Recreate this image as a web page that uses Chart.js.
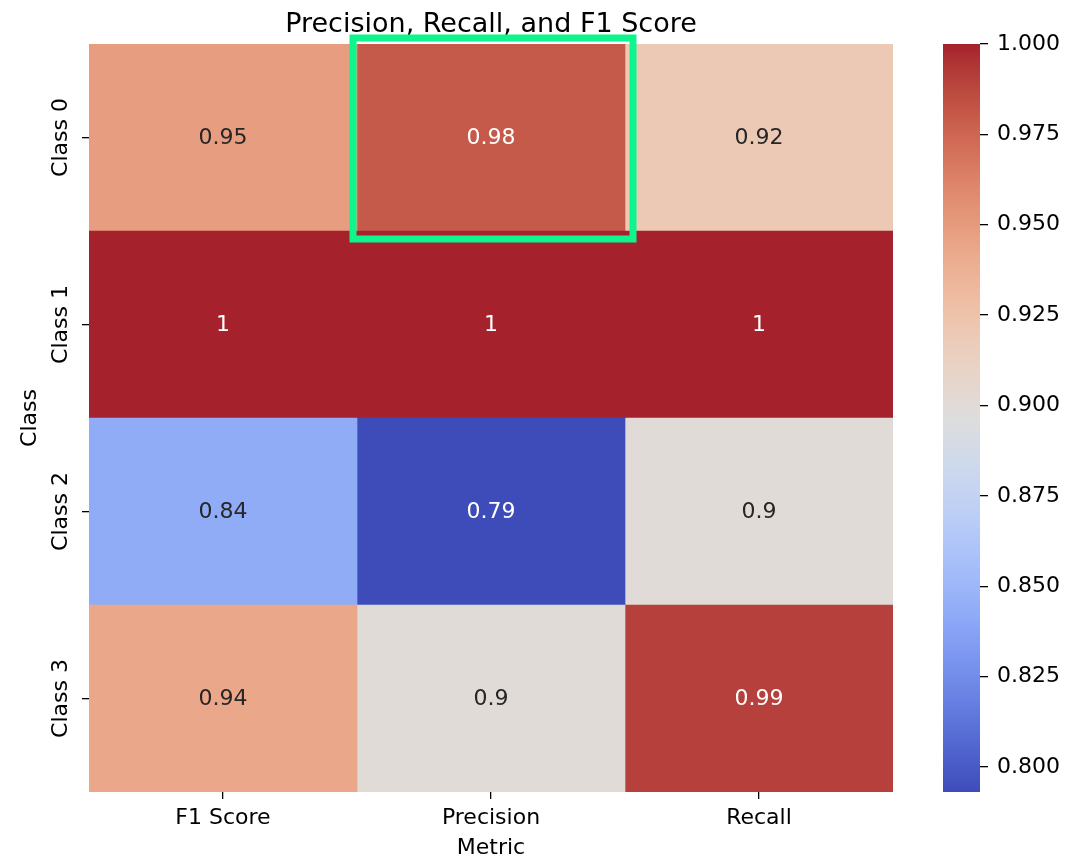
<!DOCTYPE html>
<html>
<head>
<meta charset="utf-8">
<script src="https://cdn.jsdelivr.net/npm/chart.js@4.4.1/dist/chart.umd.min.js"></script>
<style>
  html, body { margin: 0; padding: 0; background: #fff; }
  #wrap { position: relative; width: 1086px; height: 859px; }
  #heatmap { position: absolute; left: 0; top: 0; }
  #colorbar { position: absolute; left: 933px; top: 0; }
</style>
</head>
<body>
<div id="wrap">
  <canvas id="heatmap" width="983" height="859"></canvas>
  <canvas id="colorbar" width="153" height="859"></canvas>
</div>
<script>
// data
const classes = ['Class 0', 'Class 1', 'Class 2', 'Class 3'];
const metrics = ['F1 Score', 'Precision', 'Recall'];
const f1Score = [0.949, 1.0, 0.843, 0.943];
const precision = [0.980, 1.0, 0.7931, 0.900];
const recall = [0.920, 1.0, 0.900, 0.990];
const cbTicks = [0.800, 0.825, 0.850, 0.875, 0.900, 0.925, 0.950, 0.975, 1.000];
const highlight = {metric: 'Precision', cls: 'Class 0'};

const scores = [f1Score, precision, recall];
const allScores = scores.flat();
const vmin = Math.min(...allScores);
const vmax = Math.max(...allScores);

// coolwarm (Moreland), 33 evenly spaced stops
const coolwarm = [
  [59, 76, 192], [68, 90, 204], [77, 104, 215], [87, 117, 225], [98, 130, 234],
  [108, 142, 241], [119, 154, 247], [130, 165, 251], [141, 176, 254], [152, 185, 255],
  [163, 194, 255], [174, 201, 253], [184, 208, 249], [194, 213, 244], [204, 217, 238],
  [213, 219, 230], [221, 221, 221], [229, 216, 209], [236, 211, 197], [241, 204, 185],
  [245, 196, 173], [247, 187, 160], [247, 177, 148], [247, 166, 135], [244, 154, 123],
  [241, 141, 111], [236, 127, 99], [229, 112, 88], [222, 96, 77], [213, 80, 66],
  [203, 62, 56], [192, 40, 47], [180, 4, 38]
];

function cmap(t) {
  t = Math.max(0, Math.min(1, t));
  const p = t * (coolwarm.length - 1);
  const i = Math.min(Math.floor(p), coolwarm.length - 2);
  const f = p - i;
  return coolwarm[i].map((c, k) => c + (coolwarm[i + 1][k] - c) * f);
}
const norm = (v) => (v - vmin) / (vmax - vmin);

const toLin = (c) => { c /= 255; return c <= 0.04045 ? c / 12.92 : Math.pow((c + 0.055) / 1.055, 2.4); };
const toGam = (v) => { v = Math.max(0, Math.min(1, v)); return 255 * (v <= 0.0031308 ? v * 12.92 : 1.055 * Math.pow(v, 1 / 2.4) - 0.055); };

// the reference picture looks like sRGB colours re-encoded as Display P3
function shown(rgb) {
  const [r, g, b] = rgb.map(toLin);
  const out = [0.8225 * r + 0.1774 * g, 0.0332 * r + 0.9669 * g, 0.0171 * r + 0.0724 * g + 0.9108 * b];
  return 'rgb(' + out.map(toGam).map(Math.round).join(',') + ')';
}
function luminance(rgb) {
  const [r, g, b] = rgb.map(toLin);
  return 0.2126 * r + 0.7152 * g + 0.0722 * b;
}
// like '%.2g'
const fmt2g = (v) => String(Number(v.toPrecision(2)));

Chart.defaults.font.family = '"DejaVu Sans", sans-serif';
Chart.defaults.color = '#000';

// value text in every cell
const cellLabels = {
  id: 'cellLabels',
  afterDatasetsDraw(chart) {
    const {ctx} = chart;
    ctx.save();
    ctx.font = '22px "DejaVu Sans"';
    ctx.textAlign = 'center';
    ctx.textBaseline = 'middle';
    chart.data.datasets.forEach((ds, j) => {
      chart.getDatasetMeta(j).data.forEach((bar, i) => {
        const v = ds.scores[i];
        const p = bar.getCenterPoint();
        ctx.fillStyle = luminance(cmap(norm(v))) > 0.408 ? '#262626' : '#ffffff';
        ctx.fillText(fmt2g(v), p.x, p.y + 1);
      });
    });
    ctx.restore();
  }
};

// green frame round one cell
const highlightBox = {
  id: 'highlightBox',
  afterDraw(chart) {
    const {ctx, chartArea} = chart;
    const xs = chart.scales.x, ys = chart.scales.y;
    const j = metrics.indexOf(highlight.metric);
    const i = classes.indexOf(highlight.cls);
    const rowH = (chartArea.bottom - chartArea.top) / classes.length;
    const left = xs.getPixelForValue(j), right = xs.getPixelForValue(j + 1);
    const top = ys.getPixelForValue(i) - rowH / 2, bottom = top + rowH;
    ctx.save();
    ctx.strokeStyle = '#0ff58d';
    ctx.lineWidth = 7;
    ctx.strokeRect(left - 4, top - 6, right - left + 12, bottom - top + 14);
    ctx.restore();
  }
};

new Chart(document.getElementById('heatmap'), {
  type: 'bar',
  data: {
    labels: classes,
    datasets: metrics.map((m, j) => ({
      label: m,
      data: classes.map(() => 1), // one cell wide
      scores: scores[j],
      backgroundColor: scores[j].map((v) => shown(cmap(norm(v)))),
      borderWidth: 0,
      barPercentage: 1,
      categoryPercentage: 1,
    })),
  },
  options: {
    indexAxis: 'y',
    responsive: false,
    animation: false,
    devicePixelRatio: 1,
    layout: {padding: {right: 90}},
    plugins: {
      legend: {display: false},
      tooltip: {enabled: false},
      title: {
        display: true,
        fullSize: false, // centre over the cells
        text: 'Precision, Recall, and F1 Score',
        color: '#000',
        font: {size: 27, weight: 'normal', lineHeight: 1.2},
        padding: {top: 9, bottom: 2.6},
      },
    },
    scales: {
      x: {
        type: 'linear',
        stacked: true,
        min: 0,
        max: metrics.length,
        afterBuildTicks: (s) => { s.ticks = metrics.map((m, j) => ({value: j + 0.5})); },
        afterFit: (s) => { s.height = 67; },
        ticks: {callback: (v, j) => metrics[j], font: {size: 22}, padding: 6, autoSkip: false, maxRotation: 0},
        grid: {drawOnChartArea: false, tickLength: 7, color: '#000', lineWidth: 1.3},
        border: {display: false},
        title: {display: true, text: 'Metric', font: {size: 22, lineHeight: 1}, padding: 0},
      },
      y: {
        type: 'category',
        stacked: true,
        afterFit: (s) => { s.width = 89; },
        ticks: {minRotation: 90, maxRotation: 90, crossAlign: 'center', padding: -19, font: {size: 22}},
        grid: {offset: false, drawOnChartArea: false, tickLength: 7, color: '#000', lineWidth: 1.3},
        border: {display: false},
        title: {display: true, text: 'Class', font: {size: 22, lineHeight: 1}, padding: {top: 19, bottom: 0}},
      },
    },
  },
  plugins: [cellLabels, highlightBox],
});

// colour bar
function gradientFill(c) {
  const area = c.chart.chartArea;
  if (!area) return 'transparent';
  const g = c.chart.ctx.createLinearGradient(0, area.bottom, 0, area.top);
  coolwarm.forEach((rgb, k) => g.addColorStop(k / (coolwarm.length - 1), shown(rgb)));
  return g;
}

new Chart(document.getElementById('colorbar'), {
  type: 'bar',
  data: {
    labels: [''],
    datasets: [{
      data: [[vmin, vmax]],
      backgroundColor: gradientFill,
      borderWidth: 0,
      barPercentage: 1,
      categoryPercentage: 1,
    }],
  },
  options: {
    responsive: false,
    animation: false,
    devicePixelRatio: 1,
    layout: {padding: {left: 10, top: 44, bottom: 67}},
    plugins: {legend: {display: false}, tooltip: {enabled: false}},
    scales: {
      x: {display: false},
      y: {
        position: 'right',
        min: vmin,
        max: vmax,
        afterBuildTicks: (s) => { s.ticks = cbTicks.map((v) => ({value: v})); },
        afterFit: (s) => { s.width = 106; },
        ticks: {callback: (v) => v.toFixed(3), font: {size: 22}, padding: 9},
        grid: {drawOnChartArea: false, tickLength: 8, color: '#000', lineWidth: 1.3},
        border: {display: false},
      },
    },
  },
});
</script>
</body>
</html>
